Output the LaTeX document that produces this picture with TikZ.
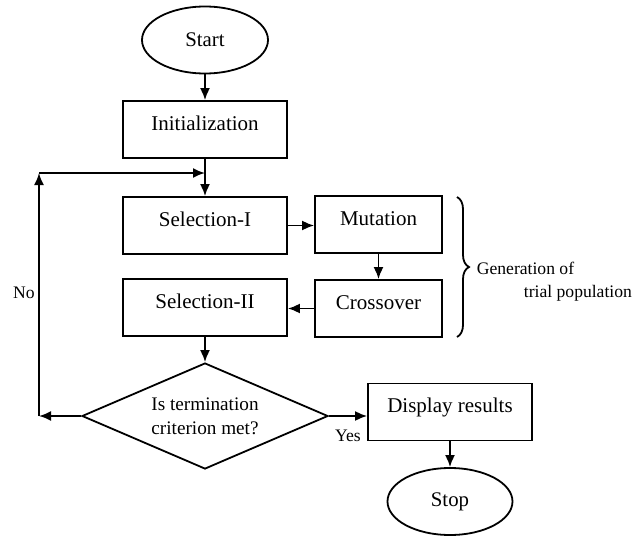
\documentclass[tikz,border=0pt]{standalone}
\usepackage{fontspec}
\setmainfont{Liberation Serif}
\usetikzlibrary{shapes.geometric,arrows.meta,decorations.pathreplacing}

\begin{document}
\begin{tikzpicture}
  [x=0.5pt,y=-0.5pt,line width=0.9pt,>={Latex[length=6pt,width=5pt]},
   box/.style={draw,rectangle,minimum width=82pt,minimum height=28.5pt,inner sep=0pt,
     text height=8pt,text depth=7.5pt,font=\fontsize{10.5}{12}\selectfont},
   term/.style={draw,ellipse,minimum width=63pt,minimum height=33.5pt,inner sep=0pt,
     font=\fontsize{10.4}{12}\selectfont},
   decision/.style={draw,diamond,aspect=2.3,minimum width=123pt,minimum height=53pt,
     inner sep=0pt,align=center,font=\fontsize{9.6}{12}\selectfont},
   lbl/.style={inner sep=0pt,font=\fontsize{8.8}{10}\selectfont}]
  \useasboundingbox (0,0) rectangle (644,536);
  \node (start)[term] at (205,40) {Start};
  \node (init)[box] at (205,129.5) {Initialization};
  \node (sel1)[box] at (205,225.5) {Selection-I};
  \node (mut)[box,minimum width=63.5pt] at (378.5,224.5) {Mutation};
  \node (cross)[box,minimum width=63.5pt] at (378.5,308.5) {Crossover};
  \node (sel2)[box] at (205,307.5) {Selection-II};
  \node (test)[decision] at (205,416) {Is termination\\criterion met?};
  \node (disp)[box] at (450,412) {Display results};
  \node (stop)[term,minimum width=62.5pt] at (450,501.5) {Stop};
  \node (no)[lbl] at (24,293) {No};
  \node (yes)[lbl] at (348,436) {Yes};
  \node (gen)[lbl,anchor=west] at (476,268) {Generation of};
  \node (trial)[lbl,anchor=west] at (523,293) {trial population};
  \coordinate (nl) at (39,416);
  \coordinate (nt) at (39,173);
  \coordinate (nj) at (205,173);
  \coordinate (bt) at (457,197);
  \coordinate (bb) at (457,337);
 \foreach \from/\to in {start/init,init/sel1,mut/cross,sel2/test,disp/stop}
    \draw[->] (\from) -- (\to);
 \foreach \from/\to in {sel1/mut,test/disp}
    \draw[->] (\from.east) -- (\from.east -| \to.west);
  \draw[->] (cross.west) -- (cross.west -| sel2.east);
  % back to selection when the test fails
  \draw[->] (test.west) -- (nl);
  \draw[->] (nl) -- (nt);
  \draw[->] (nt) -- (nj);
  \draw[decorate,decoration={brace,amplitude=6pt}] (bt) -- (bb);
\end{tikzpicture}
\end{document}
